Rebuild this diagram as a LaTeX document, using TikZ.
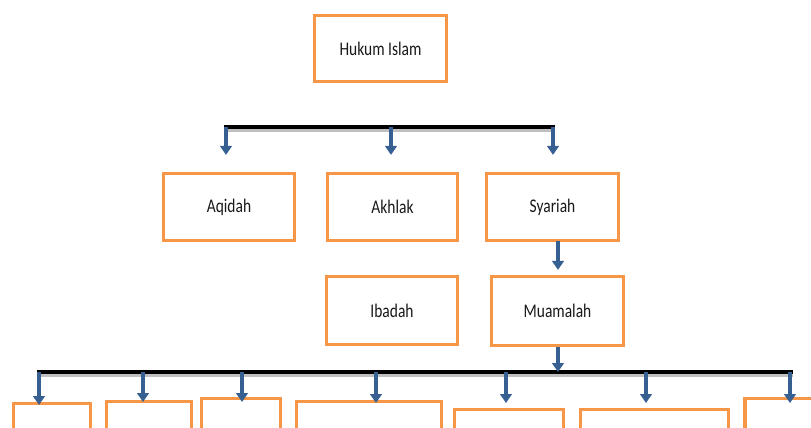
\documentclass[tikz,border=0pt]{standalone}
\usepackage{fontspec}
\usepackage{graphicx}
\setmainfont{Carlito}
\usetikzlibrary{arrows.meta}
\definecolor{boxorange}{RGB}{247,150,70}
\definecolor{arrowblue}{RGB}{55,96,146}
\definecolor{txt}{RGB}{25,25,25}
\newcommand{\lbl}[1]{\scalebox{0.8}[1]{#1}}
\tikzset{
  box/.style={draw=boxorange, line width=2.4pt, fill=white, inner sep=0pt,
    text=txt, font=\fontsize{14.5pt}{16pt}\selectfont},
  lowbox/.style={box, anchor=north, minimum height=75pt},
  arr/.style={draw=arrowblue, line width=3pt,
    -{Triangle[width=8.75pt,length=6.75pt]}},
  barline/.style={line width=3.2pt, black},
  barshadow/.style={line width=2pt, black!25},
}
\begin{document}
\begin{tikzpicture}[x=0.75pt,y=-0.75pt]
\useasboundingbox (0,0) rectangle (811,428);
\clip (0,0) rectangle (811,428);
\fill[white] (0,0) rectangle (811,428);

% top level
\node[box, minimum width=99pt, minimum height=49.5pt] (hukum) at (380.5,48.5) {\lbl{Hukum Islam}};

% second level
\node[box, minimum width=98.25pt, minimum height=50.25pt] (aqidah) at (229,207) {\lbl{Aqidah}};
\node[box, minimum width=97.5pt, minimum height=50.25pt] (akhlak) at (392.5,207) {\lbl{Akhlak}};
\node[box, minimum width=99pt, minimum height=50.25pt] (syariah) at (552.5,207) {\lbl{Syariah}};

% third level
\node[box, minimum width=98.25pt, minimum height=51pt] (ibadah) at (392,310.5) {\lbl{Ibadah}};
\node[box, minimum width=99pt, minimum height=51.75pt] (muamalah) at (557.5,311) {\lbl{Muamalah}};

% bottom level (cut off)
\node[lowbox, minimum width=57.75pt] (b1) at (52,402) {};
\node[lowbox, minimum width=63.75pt] (b2) at (149,400) {};
\node[lowbox, minimum width=59.25pt] (b3) at (241,397) {};
\node[lowbox, minimum width=108.75pt] (b4) at (369,400) {};
\node[lowbox, minimum width=81.75pt] (b5) at (509,408) {};
\node[lowbox, minimum width=111pt] (b6) at (654.5,408) {};
\node[lowbox, minimum width=102.75pt] (b7) at (813.5,397) {};

% top bar
\coordinate (tl) at (224,127);
\coordinate (tr) at (555,127);
\draw[barshadow] ([yshift=-2.4pt]tl) -- ([yshift=-2.4pt]tr);
\draw[barline] (tl) -- (tr);
\coordinate (t1) at (226,127);
\coordinate (t2) at (391,127);
\coordinate (t3) at (553,127);
\draw[arr, shorten >=12.75pt] (t1) -- (t1 |- aqidah.north);
\draw[arr, shorten >=12.75pt] (t2) -- (t2 |- akhlak.north);
\draw[arr, shorten >=12.75pt] (t3) -- (t3 |- syariah.north);

% Syariah -> Muamalah
\coordinate (s1) at (558,241);
\draw[arr, shorten >=3.75pt] (s1) -- (s1 |- muamalah.north);

% bottom bar
\coordinate (bl) at (37,372);
\coordinate (br) at (793,372);
\draw[barshadow] ([yshift=-2.4pt]bl) -- ([yshift=-2.4pt]br);
\draw[barline] (bl) -- (br);
\coordinate (m1) at (558,347);
\draw[arr] (m1) -- (m1 |- bl);

\coordinate (k1) at (39,372);
\coordinate (k2) at (143,372);
\coordinate (k3) at (242,372);
\coordinate (k4) at (376,372);
\coordinate (k5) at (506,372);
\coordinate (k6) at (646,372);
\coordinate (k7) at (790,372);
\draw[arr, shorten >=-2.25pt] (k1) -- (k1 |- b1.north);
\draw[arr, shorten >=-1.5pt] (k2) -- (k2 |- b2.north);
\draw[arr, shorten >=-3.75pt] (k3) -- (k3 |- b3.north);
\draw[arr, shorten >=-2.25pt] (k4) -- (k4 |- b4.north);
\draw[arr, shorten >=3.75pt] (k5) -- (k5 |- b5.north);
\draw[arr, shorten >=3.75pt] (k6) -- (k6 |- b6.north);
\draw[arr, shorten >=-4.5pt] (k7) -- (k7 |- b7.north);
\end{tikzpicture}
\end{document}
